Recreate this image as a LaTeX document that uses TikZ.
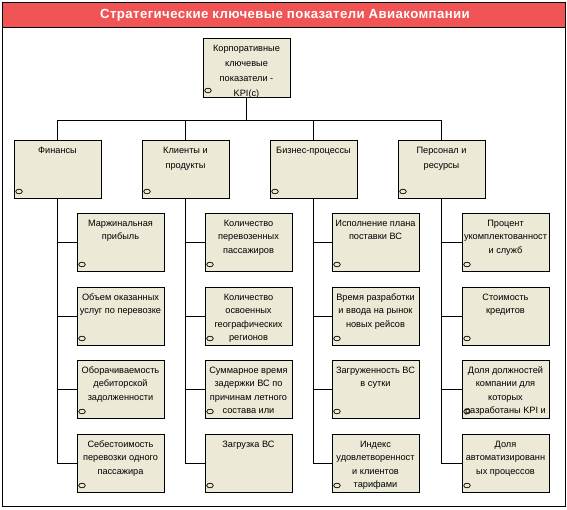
\documentclass[tikz,border=0pt]{standalone}
\usepackage{fontspec}
\setmainfont{Liberation Sans}
\definecolor{boxfill}{RGB}{236,233,214}
\definecolor{titlered}{RGB}{240,84,84}
\tikzset{
  kbox/.style={draw=black, fill=boxfill, line width=0.9pt, inner sep=0pt, outer sep=0pt, anchor=north west},
  conn/.style={draw=black, line width=0.8pt},
  iconst/.style={draw=black, line width=0.7pt},
}
\newcommand\boxtextA[2][58pt]{\begin{minipage}[c][#1][t]{87pt}\centering\fontsize{9.2}{15}\selectfont\rule{0pt}{13.5pt}#2\end{minipage}}
\newcommand\boxtextB[1]{\begin{minipage}[c][58pt][t]{87pt}\centering\fontsize{9.2}{13.3}\selectfont\rule{0pt}{13.5pt}#1\end{minipage}}
\newcommand\kicon[1]{\draw[iconst] ([xshift=5pt,yshift=6.5pt]#1.south west) ellipse [x radius=3.3pt, y radius=2.3pt];}
\begin{document}
\begin{tikzpicture}[x=1pt,y=-1pt]
\useasboundingbox (0,0) rectangle (567,509);
% frame and title
\fill[titlered] (2,2) rectangle (565,27);
\draw[line width=0.8pt] (2,27) -- (565,27);
\draw[line width=0.9pt] (2,2) rectangle (565,506);
\node[text=white, font=\fontsize{13.2}{15}\selectfont\bfseries\addfontfeature{LetterSpace=3}] (title) at (285,15) {Стратегические ключевые показатели Авиакомпании};
% top node
\node[kbox] (kpi) at (203,38) {\boxtextA[59pt]{Корпоративные\\ключевые\\показатели -\\KPI(c)}};
% level 2
\node[kbox] (fin) at (14,140) {\boxtextA{Финансы}};
\node[kbox] (cli) at (142,140) {\boxtextA{Клиенты и\\продукты}};
\node[kbox] (biz) at (270,140) {\boxtextA{Бизнес-процессы}};
\node[kbox] (per) at (398,140) {\boxtextA{Персонал и\\ресурсы}};
% level 3, column 1
\node[kbox] (f1) at (77,213) {\boxtextB{Маржинальная\\прибыль}};
\node[kbox] (f2) at (77,287) {\boxtextB{Объем оказанных\\услуг по перевозке}};
\node[kbox] (f3) at (77,360) {\boxtextB{Оборачиваемость\\дебиторской\\задолженности}};
\node[kbox] (f4) at (77,434) {\boxtextB{Себестоимость\\перевозки одного\\пассажира}};
% column 2
\node[kbox] (c1) at (205,213) {\boxtextB{Количество\\перевозенных\\пассажиров}};
\node[kbox] (c2) at (205,287) {\boxtextB{Количество\\освоенных\\географических\\регионов}};
\node[kbox] (c3) at (205,360) {\boxtextB{Суммарное время\\задержки ВС по\\причинам летного\\состава или}};
\node[kbox] (c4) at (205,434) {\boxtextB{Загрузка ВС}};
% column 3
\node[kbox] (b1) at (332,213) {\boxtextB{Исполнение плана\\поставки ВС}};
\node[kbox] (b2) at (332,287) {\boxtextB{Время разработки\\и ввода на рынок\\новых рейсов}};
\node[kbox] (b3) at (332,360) {\boxtextB{Загруженность ВС\\в сутки}};
\node[kbox] (b4) at (332,434) {\boxtextB{Индекс\\удовлетворенност\\и клиентов\\тарифами}};
% column 4
\node[kbox] (p1) at (462,213) {\boxtextB{Процент\\укомплектованност\\и служб}};
\node[kbox] (p2) at (462,287) {\boxtextB{Стоимость\\кредитов}};
\node[kbox] (p3) at (462,360) {\boxtextB{Доля должностей\\компании для\\которых\\разработаны KPI и}};
\node[kbox] (p4) at (462,434) {\boxtextB{Доля\\автоматизированн\\ых процессов}};
% icons
\foreach \n in {kpi,fin,cli,biz,per,f1,f2,f3,f4,c1,c2,c3,c4,b1,b2,b3,b4,p1,p2,p3,p4}{\kicon{\n}}
% connectors
\coordinate (bus) at (0,120);
\draw[conn] (kpi.south) -- (kpi.south |- bus);
\foreach \n in {fin,cli,biz,per}{\draw[conn] (kpi.south |- bus) -| (\n.north);}
\foreach \n in {f1,f2,f3,f4}{\draw[conn] (fin.south) |- (\n.west);}
\foreach \n in {c1,c2,c3,c4}{\draw[conn] (cli.south) |- (\n.west);}
\foreach \n in {b1,b2,b3,b4}{\draw[conn] (biz.south) |- (\n.west);}
\foreach \n in {p1,p2,p3,p4}{\draw[conn] (per.south) |- (\n.west);}
\end{tikzpicture}
\end{document}
